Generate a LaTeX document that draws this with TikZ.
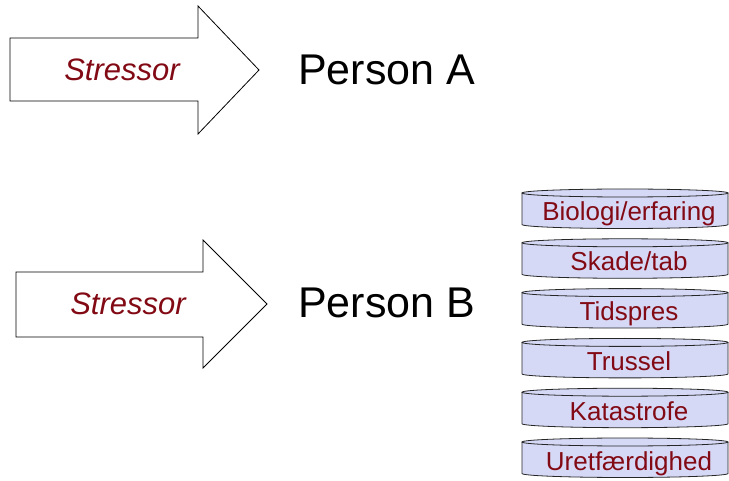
\documentclass[tikz,border=0pt]{standalone}
\usepackage{fontspec}
\setmainfont{Liberation Sans}
\definecolor{stresscol}{RGB}{130,10,20}
\definecolor{cylfill}{RGB}{214,217,246}
\begin{document}
\begin{tikzpicture}[x=1pt,y=-1pt,
  arrowshape/.style={draw=black,line width=0.8pt,fill=white,line join=miter},
  stresstxt/.style={text=stresscol,font=\fontsize{31}{36}\selectfont\itshape,inner sep=0pt},
  persontxt/.style={text=black,font=\fontsize{43}{50}\selectfont,inner sep=0pt},
  cyltxt/.style={text=stresscol,font=\fontsize{26}{30}\selectfont,inner sep=0pt,anchor=base},
  cylline/.style={draw=black!85,line width=0.8pt}]
\useasboundingbox (0,0) rectangle (729,481);
% arrows
\draw[arrowshape] (10,38) -- (198,38) -- (198,6) -- (259,70) -- (198,134) -- (198,101) -- (10,101) -- cycle;
\draw[arrowshape] (16,272) -- (203,272) -- (203,240) -- (267,304) -- (203,368) -- (203,337) -- (16,337) -- cycle;
\node[stresstxt] (sA) at (122,70) {Stressor};
\node[stresstxt] (sB) at (128,304) {Stressor};
\node[persontxt,anchor=west] (pA) at (298,70) {Person A};
\node[persontxt,anchor=west] (pB) at (298,303) {Person B};
% cylinders
\foreach \i/\t in {0/Biologi\slash erfaring,1/Skade\slash tab,2/Tidspres,3/Trussel,4/Katastrofe,5/Uretfærdighed}{
  \pgfmathsetmacro{\yc}{212+49.8*\i}
  \pgfmathsetmacro{\yt}{\yc-19}
  \pgfmathsetmacro{\yb}{\yc+12.5}
  \path[fill=cylfill] (522,\yt) -- (522,\yb) arc[start angle=180,end angle=360,x radius=103pt,y radius=4pt] -- (728,\yt) arc[start angle=0,end angle=180,x radius=103pt,y radius=4pt] -- cycle;
  \draw[cylline] (522,\yt) -- (522,\yb) arc[start angle=180,end angle=360,x radius=103pt,y radius=4pt] -- (728,\yt);
  \draw[cylline] (625,\yt) ellipse[x radius=103pt,y radius=4pt];
  \node[cyltxt] (c\i) at (629,\yc+9) {\t};
}
\end{tikzpicture}
\end{document}
